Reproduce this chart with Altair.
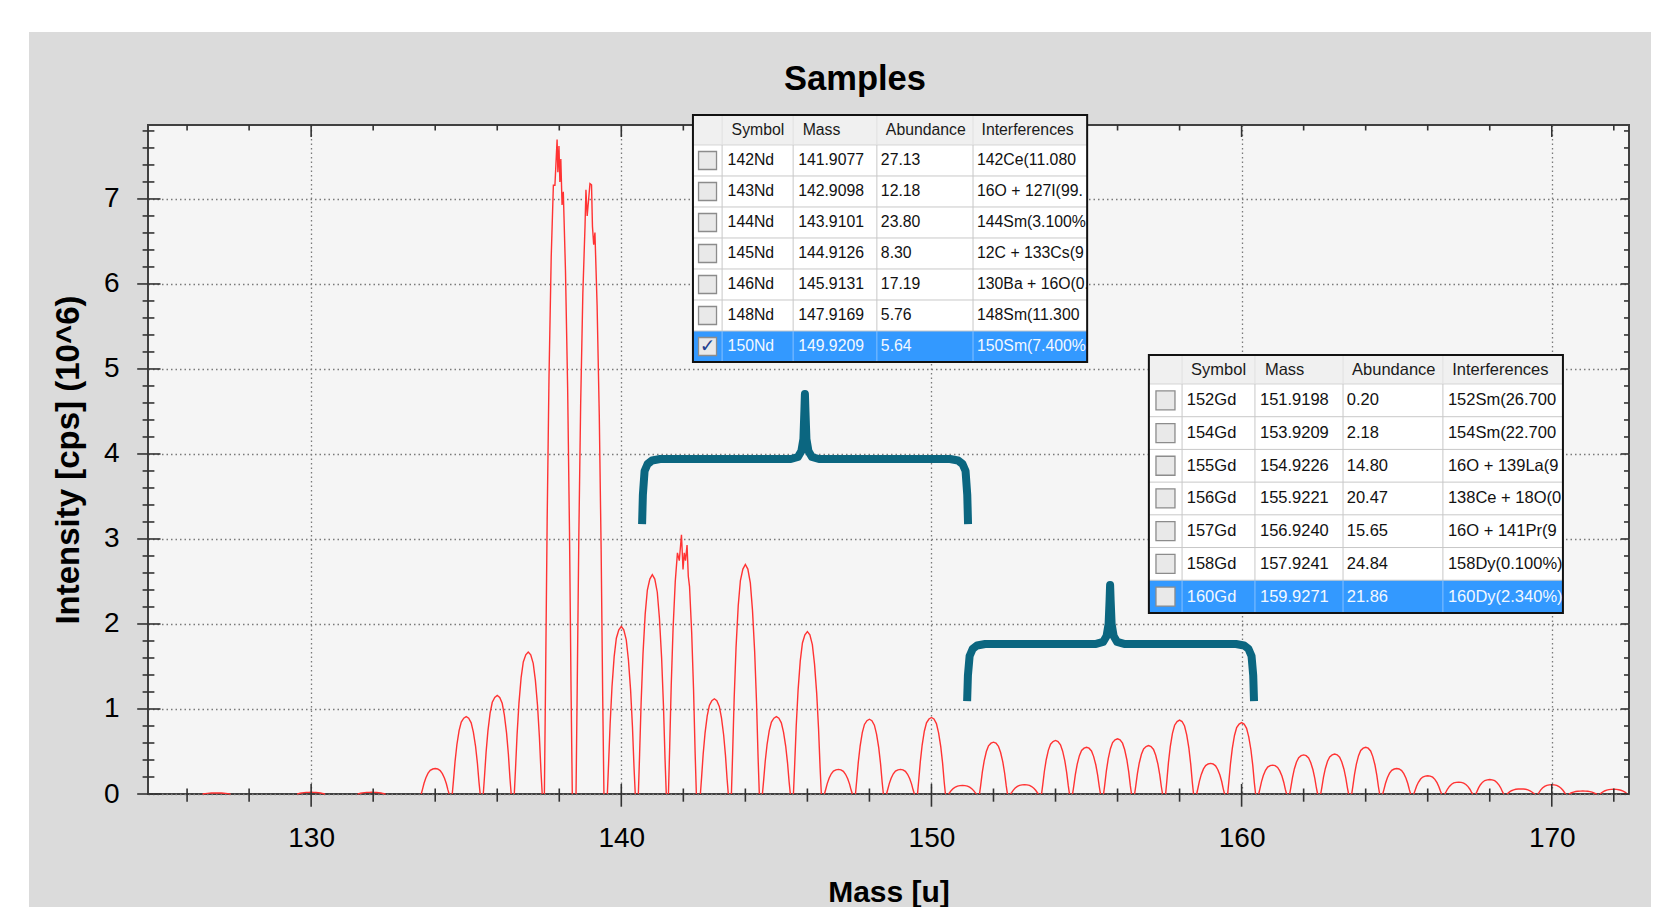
import altair as alt
import pandas as pd

# ---------------- values ----------------
# spectrum peaks: centre mass [u] and top intensity [10^6 cps]
PEAK_MASS = [126.95, 130.0, 131.95, 134, 135, 136, 137, 137.97, 138.99,
             140, 141, 141.97, 143, 144, 145, 146, 147, 148, 149, 150,
             151, 152, 153, 154, 155, 156, 157, 158, 159, 160, 161, 162,
             163, 164, 165, 166, 167, 168, 169, 170, 171, 172]
PEAK_HEIGHT = [0.012, 0.02, 0.02, 0.30, 0.91, 1.16, 1.67, 7.70, 7.18,
               1.97, 2.58, 3.05, 1.12, 2.70, 0.91, 1.91, 0.29, 0.88, 0.29, 0.90,
               0.10, 0.61, 0.11, 0.63, 0.55, 0.65, 0.57, 0.87, 0.36, 0.84, 0.34, 0.46,
               0.47, 0.55, 0.30, 0.215, 0.14, 0.17, 0.06, 0.11, 0.035, 0.055]
# typical peak outline (offset from centre, fraction of top)
PROFILE_DX = [-0.45, -0.41, -0.36, -0.30, -0.23, -0.16, -0.08, 0.0, 0.08, 0.16, 0.23, 0.30, 0.36, 0.41, 0.45]
PROFILE_F = [0.0, 0.18, 0.42, 0.64, 0.82, 0.93, 0.98, 1.0, 0.98, 0.92, 0.80, 0.62, 0.40, 0.16, 0.0]
# noisy tops of a few peaks
TOP_DX = {
    137.97: [-0.11, -0.04, -0.015, 0.02, 0.05, 0.08, 0.12],
    138.99: [-0.13, -0.09, -0.04, 0.0, 0.05, 0.08, 0.12],
    141.97: [-0.10, -0.03, 0.02, 0.06, 0.10, 0.15, 0.19],
}
TOP_F = {
    137.97: [0.93, 1.0, 0.95, 0.99, 0.935, 0.97, 0.90],
    138.99: [0.99, 0.947, 0.976, 1.0, 0.998, 0.93, 0.90],
    141.97: [0.90, 1.0, 0.866, 0.93, 0.90, 0.96, 0.84],
}

X_TICK_LABELS = [130, 140, 150, 160, 170]
Y_TICK_LABELS = [0, 1, 2, 3, 4, 5, 6, 7]
X_MINOR = list(range(126, 173, 2))
Y_MINOR = [round(0.2 * i, 1) for i in range(0, 40)]

HEADERS = ["Symbol", "Mass", "Abundance", "Interferences"]
T1_SYMBOL = ["142Nd", "143Nd", "144Nd", "145Nd", "146Nd", "148Nd", "150Nd"]
T1_MASS = ["141.9077", "142.9098", "143.9101", "144.9126", "145.9131", "147.9169", "149.9209"]
T1_ABUND = ["27.13", "12.18", "23.80", "8.30", "17.19", "5.76", "5.64"]
T1_INTERF = ["142Ce(11.080%)", "16O + 127I(99.762%)", "144Sm(3.100%)", "12C + 133Cs(98.900%)",
             "130Ba + 16O(0.106%)", "148Sm(11.300%)", "150Sm(7.400%)"]
T1_CHECKED = [False, False, False, False, False, False, True]
T1_SELECTED = 6

T2_SYMBOL = ["152Gd", "154Gd", "155Gd", "156Gd", "157Gd", "158Gd", "160Gd"]
T2_MASS = ["151.9198", "153.9209", "154.9226", "155.9221", "156.9240", "157.9241", "159.9271"]
T2_ABUND = ["0.20", "2.18", "14.80", "20.47", "15.65", "24.84", "21.86"]
T2_INTERF = ["152Sm(26.700%)", "154Sm(22.700%)", "16O + 139La(99.672%)", "138Ce + 18O(0.002%)",
             "16O + 141Pr(99.762%)", "158Dy(0.100%);", "160Dy(2.340%);"]
T2_CHECKED = [False] * 7
T2_SELECTED = 6

# ---------------- layout ----------------
W, H = 1481, 669
X_MIN, X_MAX = 124.74, 172.49
Y_MIN, Y_MAX = 0.0, 7.87
PX_X = (X_MAX - X_MIN) / W   # mass units per pixel
PX_Y = (Y_MAX - Y_MIN) / H   # intensity units per pixel

# table boxes placed in data units (mass / intensity)
T1_EDGES = [142.31, 143.25, 145.54, 148.24, 151.34, 155.02]
T1_TOP, T1_HEAD, T1_ROW = 7.988, 7.635, 0.3647
T2_EDGES = [157.01, 158.08, 160.43, 163.27, 166.49, 170.36]
T2_TOP, T2_HEAD, T2_ROW = 5.164, 4.823, 0.3847

# curly braces: left end, tip, right end (mass); end, bar, tip (intensity)
BRACES = [(140.67, 145.92, 151.18, 3.176, 3.941, 4.706),
          (151.15, 155.76, 160.40, 1.094, 1.765, 2.459)]

FONT = "Liberation Sans"
XS = alt.Scale(domain=[X_MIN, X_MAX], nice=False, zero=False)
YS = alt.Scale(domain=[Y_MIN, Y_MAX], nice=False, zero=False)

AX = alt.Axis(
    values=X_TICK_LABELS, title="Mass [u]", grid=True, ticks=False, tickSize=0, domain=False,
    labelFontSize=28, labelFont=FONT, labelColor="#000", labelPadding=30, labelFlush=False,
    labelOverlap=False, titleFont=FONT, titleFontSize=30, titleFontWeight="bold", titleColor="#000",
    titleX=W / 2, titleY=98, titleBaseline="middle", titleAlign="center",
    gridDash=[1.5, 3], gridColor="#7a7a7a", gridWidth=1.3)
AY = alt.Axis(
    values=Y_TICK_LABELS, title="Intensity [cps] (10^6)", grid=True, ticks=False, tickSize=0,
    domain=False, labelFontSize=28, labelFont=FONT, labelColor="#000", labelPadding=29,
    labelFlush=False, labelOverlap=False, titleFont=FONT, titleFontSize=33, titleFontWeight="bold",
    titleColor="#000", titleX=-80, titleY=H / 2, titleBaseline="middle", titleAlign="center",
    titleAngle=270, gridDash=[1.5, 3], gridColor="#7a7a7a", gridWidth=1.3)


def X(f):
    return alt.X(f, type="quantitative", scale=XS, axis=AX)


def Y(f):
    return alt.Y(f, type="quantitative", scale=YS, axis=AY)


# ---------------- spectrum ----------------
rows = []
for i, (m, h) in enumerate(zip(PEAK_MASS, PEAK_HEIGHT)):
    pts = list(zip(PROFILE_DX, PROFILE_F))
    if m in TOP_DX:
        lo, hi = TOP_DX[m][0], TOP_DX[m][-1]
        pts = [p for p in pts if p[0] < lo or p[0] > hi] + list(zip(TOP_DX[m], TOP_F[m]))
        pts.sort()
    for k, (dx, f) in enumerate(pts):
        rows.append({"peak": i, "k": k, "mass": m + dx, "intensity": h * f})
spec = pd.DataFrame(rows)

spectrum = alt.Chart(spec).mark_line(color="#ff3333", strokeWidth=1.4).encode(
    x=X("mass"), y=Y("intensity"), detail="peak:N", order="k:Q")

# ---------------- frame ticks (crossing the frame) ----------------
trows = []
for t in X_MINOR:
    major = t % 10 == 0
    trows.append({"x": t, "x2": t, "y": -(12.7 if major else 7.7) * PX_Y,
                  "y2": (10 if major else 5.5) * PX_Y})
    trows.append({"x": t, "x2": t, "y": Y_MAX, "y2": Y_MAX - (12 if major else 5.5) * PX_Y})
for t in Y_MINOR:
    major = abs(t - round(t)) < 1e-6
    trows.append({"x": X_MIN - (10.8 if major else 5.4) * PX_X,
                  "x2": X_MIN + (12.5 if major else 6.4) * PX_X, "y": t, "y2": t})
    trows.append({"x": X_MAX, "x2": X_MAX - (8.3 if major else 5) * PX_X, "y": t, "y2": t})
ticks = alt.Chart(pd.DataFrame(trows)).mark_rule(color="#333333", strokeWidth=1.6, clip=False).encode(
    x=X("x"), x2="x2", y=Y("y"), y2="y2")

# ---------------- braces ----------------
brows = []
for b, (xl, xt, xr, ye, yb, yt) in enumerate(BRACES):
    leg = yb - ye
    left = [(xl, ye), (xl + 0.8 * PX_X, ye + 0.45 * leg), (xl + 2.5 * PX_X, yb - 12 * PX_Y),
            (xl + 5.5 * PX_X, yb - 5 * PX_Y), (xl + 10 * PX_X, yb - 1.5 * PX_Y), (xl + 18 * PX_X, yb),
            (xt - 14 * PX_X, yb), (xt - 7 * PX_X, yb + 2 * PX_Y), (xt - 3.5 * PX_X, yb + 8 * PX_Y),
            (xt - 1.5 * PX_X, yb + 20 * PX_Y), (xt - 0.5 * PX_X, yb + 0.75 * (yt - yb))]
    right = [(xr - (x - xl), y) if x - xl < (xt - xl) / 2 else (xt + (xt - x), y) for x, y in left]
    pts = left + [(xt, yt)] + right[::-1]
    for k, (x, y) in enumerate(pts):
        brows.append({"b": b, "k": k, "x": x, "y": y})
braces = alt.Chart(pd.DataFrame(brows)).mark_line(
    color="#0b6680", strokeWidth=8, strokeCap="butt", strokeJoin="round", clip=False).encode(
    x=X("x"), y=Y("y"), detail="b:N", order="k:Q")


# ---------------- tables ----------------
def make_table(sym, mass, abund, interf, checked, sel, edges, top, head, rowh, fs,
               body_pad, head_pad, box, limit):
    layers = []
    bottom = head - 7 * rowh
    box_df = pd.DataFrame([{"x": edges[0], "x2": edges[-1], "y": bottom, "y2": top}])
    layers.append(alt.Chart(box_df).mark_rect(color="white", clip=False).encode(
        x=X("x"), x2="x2", y=Y("y"), y2="y2"))
    hd = pd.DataFrame([{"x": edges[0], "x2": edges[-1], "y": head, "y2": top}])
    layers.append(alt.Chart(hd).mark_rect(color="#f0f0f0", clip=False).encode(
        x=X("x"), x2="x2", y=Y("y"), y2="y2"))
    sd = pd.DataFrame([{"x": edges[0], "x2": edges[-1], "y": head - (sel + 1) * rowh,
                        "y2": head - sel * rowh}])
    layers.append(alt.Chart(sd).mark_rect(color="#3399ff", clip=False).encode(
        x=X("x"), x2="x2", y=Y("y"), y2="y2"))
    # horizontal lines
    hl = [{"x": edges[0], "x2": edges[-1], "y": head - i * rowh, "c": "#c8c8c8"} for i in range(1, 7)]
    hl.append({"x": edges[0], "x2": edges[-1], "y": head, "c": "#d5d5d5"})
    layers.append(alt.Chart(pd.DataFrame(hl)).mark_rule(strokeWidth=1, clip=False).encode(
        x=X("x"), x2="x2", y=Y("y"), color=alt.Color("c:N", scale=None)))
    # vertical lines
    vl = []
    for e in edges[1:-1]:
        vl.append({"x": e, "y": head, "y2": top, "c": "#e0e0e0"})
        vl.append({"x": e, "y": head - sel * rowh, "y2": head, "c": "#c8c8c8"})
        vl.append({"x": e, "y": head - (sel + 1) * rowh, "y2": head - sel * rowh, "c": "#86c0ff"})
    layers.append(alt.Chart(pd.DataFrame(vl)).mark_rule(strokeWidth=1, clip=False).encode(
        x=X("x"), y=Y("y"), y2="y2", color=alt.Color("c:N", scale=None)))
    # border
    layers.append(alt.Chart(box_df).mark_rect(fill=None, filled=False, stroke="#111111",
                                              strokeWidth=2, clip=False).encode(
        x=X("x"), x2="x2", y=Y("y"), y2="y2"))
    # check boxes
    cb = pd.DataFrame([{"x": (edges[0] + edges[1]) / 2, "y": head - (i + 0.5) * rowh,
                        "chk": "\u2713" if checked[i] else ""} for i in range(7)])
    layers.append(alt.Chart(cb).mark_point(shape="square", size=box * box, filled=True,
                                           fill="#e9e9e9", stroke="#8c8c8c", strokeWidth=1.3,
                                           opacity=1, clip=False).encode(x=X("x"), y=Y("y")))
    layers.append(alt.Chart(cb).mark_text(font="DejaVu Sans", fontSize=fs + 3, fontWeight="bold",
                                          color="#22408f", clip=False).encode(
        x=X("x"), y=Y("y"), text="chk:N"))
    # texts
    tr = []
    for j, hname in enumerate(HEADERS):
        tr.append({"x": edges[j + 1] + head_pad[j] * PX_X, "y": (top + head) / 2, "t": hname, "c": "#1a1a1a"})
    for i in range(7):
        c = "#f2f8ff" if i == sel else "#111111"
        y = head - (i + 0.5) * rowh
        for j, val in enumerate([sym[i], mass[i], abund[i]]):
            tr.append({"x": edges[j + 1] + body_pad[j] * PX_X, "y": y, "t": val, "c": c})
    layers.append(alt.Chart(pd.DataFrame(tr)).mark_text(
        font=FONT, fontSize=fs, align="left", baseline="middle", clip=False).encode(
        x=X("x"), y=Y("y"), text="t:N", color=alt.Color("c:N", scale=None)))
    ir = [{"x": edges[4] + body_pad[3] * PX_X, "y": head - (i + 0.5) * rowh, "t": interf[i],
           "c": "#f2f8ff" if i == sel else "#111111"} for i in range(7)]
    layers.append(alt.Chart(pd.DataFrame(ir)).mark_text(
        font=FONT, fontSize=fs, align="left", baseline="middle", limit=limit, ellipsis="\u200b",
        clip=False).encode(x=X("x"), y=Y("y"), text="t:N", color=alt.Color("c:N", scale=None)))
    return layers


t1 = make_table(T1_SYMBOL, T1_MASS, T1_ABUND, T1_INTERF, T1_CHECKED, T1_SELECTED,
                T1_EDGES, T1_TOP, T1_HEAD, T1_ROW, 15.8, [5.5, 5, 4, 4], [9.5, 9.5, 9, 8.5], 18, 112)
t2 = make_table(T2_SYMBOL, T2_MASS, T2_ABUND, T2_INTERF, T2_CHECKED, T2_SELECTED,
                T2_EDGES, T2_TOP, T2_HEAD, T2_ROW, 16.5, [4.7, 5, 3.7, 5], [9, 10, 9, 9.3], 19, 115)

# ---------------- page decoration ----------------
one = pd.DataFrame([{"a": 0}])
strip_top = alt.Chart(one).mark_rect(color="white", clip=False).encode(
    x=alt.value(-140), x2=alt.value(W + 22), y=alt.value(-117), y2=alt.value(-93))
strip_left = alt.Chart(one).mark_rect(color="white", clip=False).encode(
    x=alt.value(-140), x2=alt.value(-119), y=alt.value(-117), y2=alt.value(H + 113))
title = alt.Chart(pd.DataFrame([{"t": "Samples"}])).mark_text(
    font=FONT, fontSize=34.5, fontWeight="bold", color="#000", align="center",
    baseline="alphabetic", clip=False).encode(x=alt.value(707), y=alt.value(-35), text="t:N")

chart = alt.layer(spectrum, strip_top, strip_left, ticks, braces, *t1, *t2, title).properties(
    width=W, height=H,
    padding={"left": 140, "top": 117, "right": 22, "bottom": 113},
    autosize=alt.AutoSizeParams(type="none"),
).configure(background="#dbdbdb").configure_view(
    fill="#f5f5f5", stroke="#404040", strokeWidth=2)

chart.save("out.html", embed_options={"renderer": "svg", "actions": False})
